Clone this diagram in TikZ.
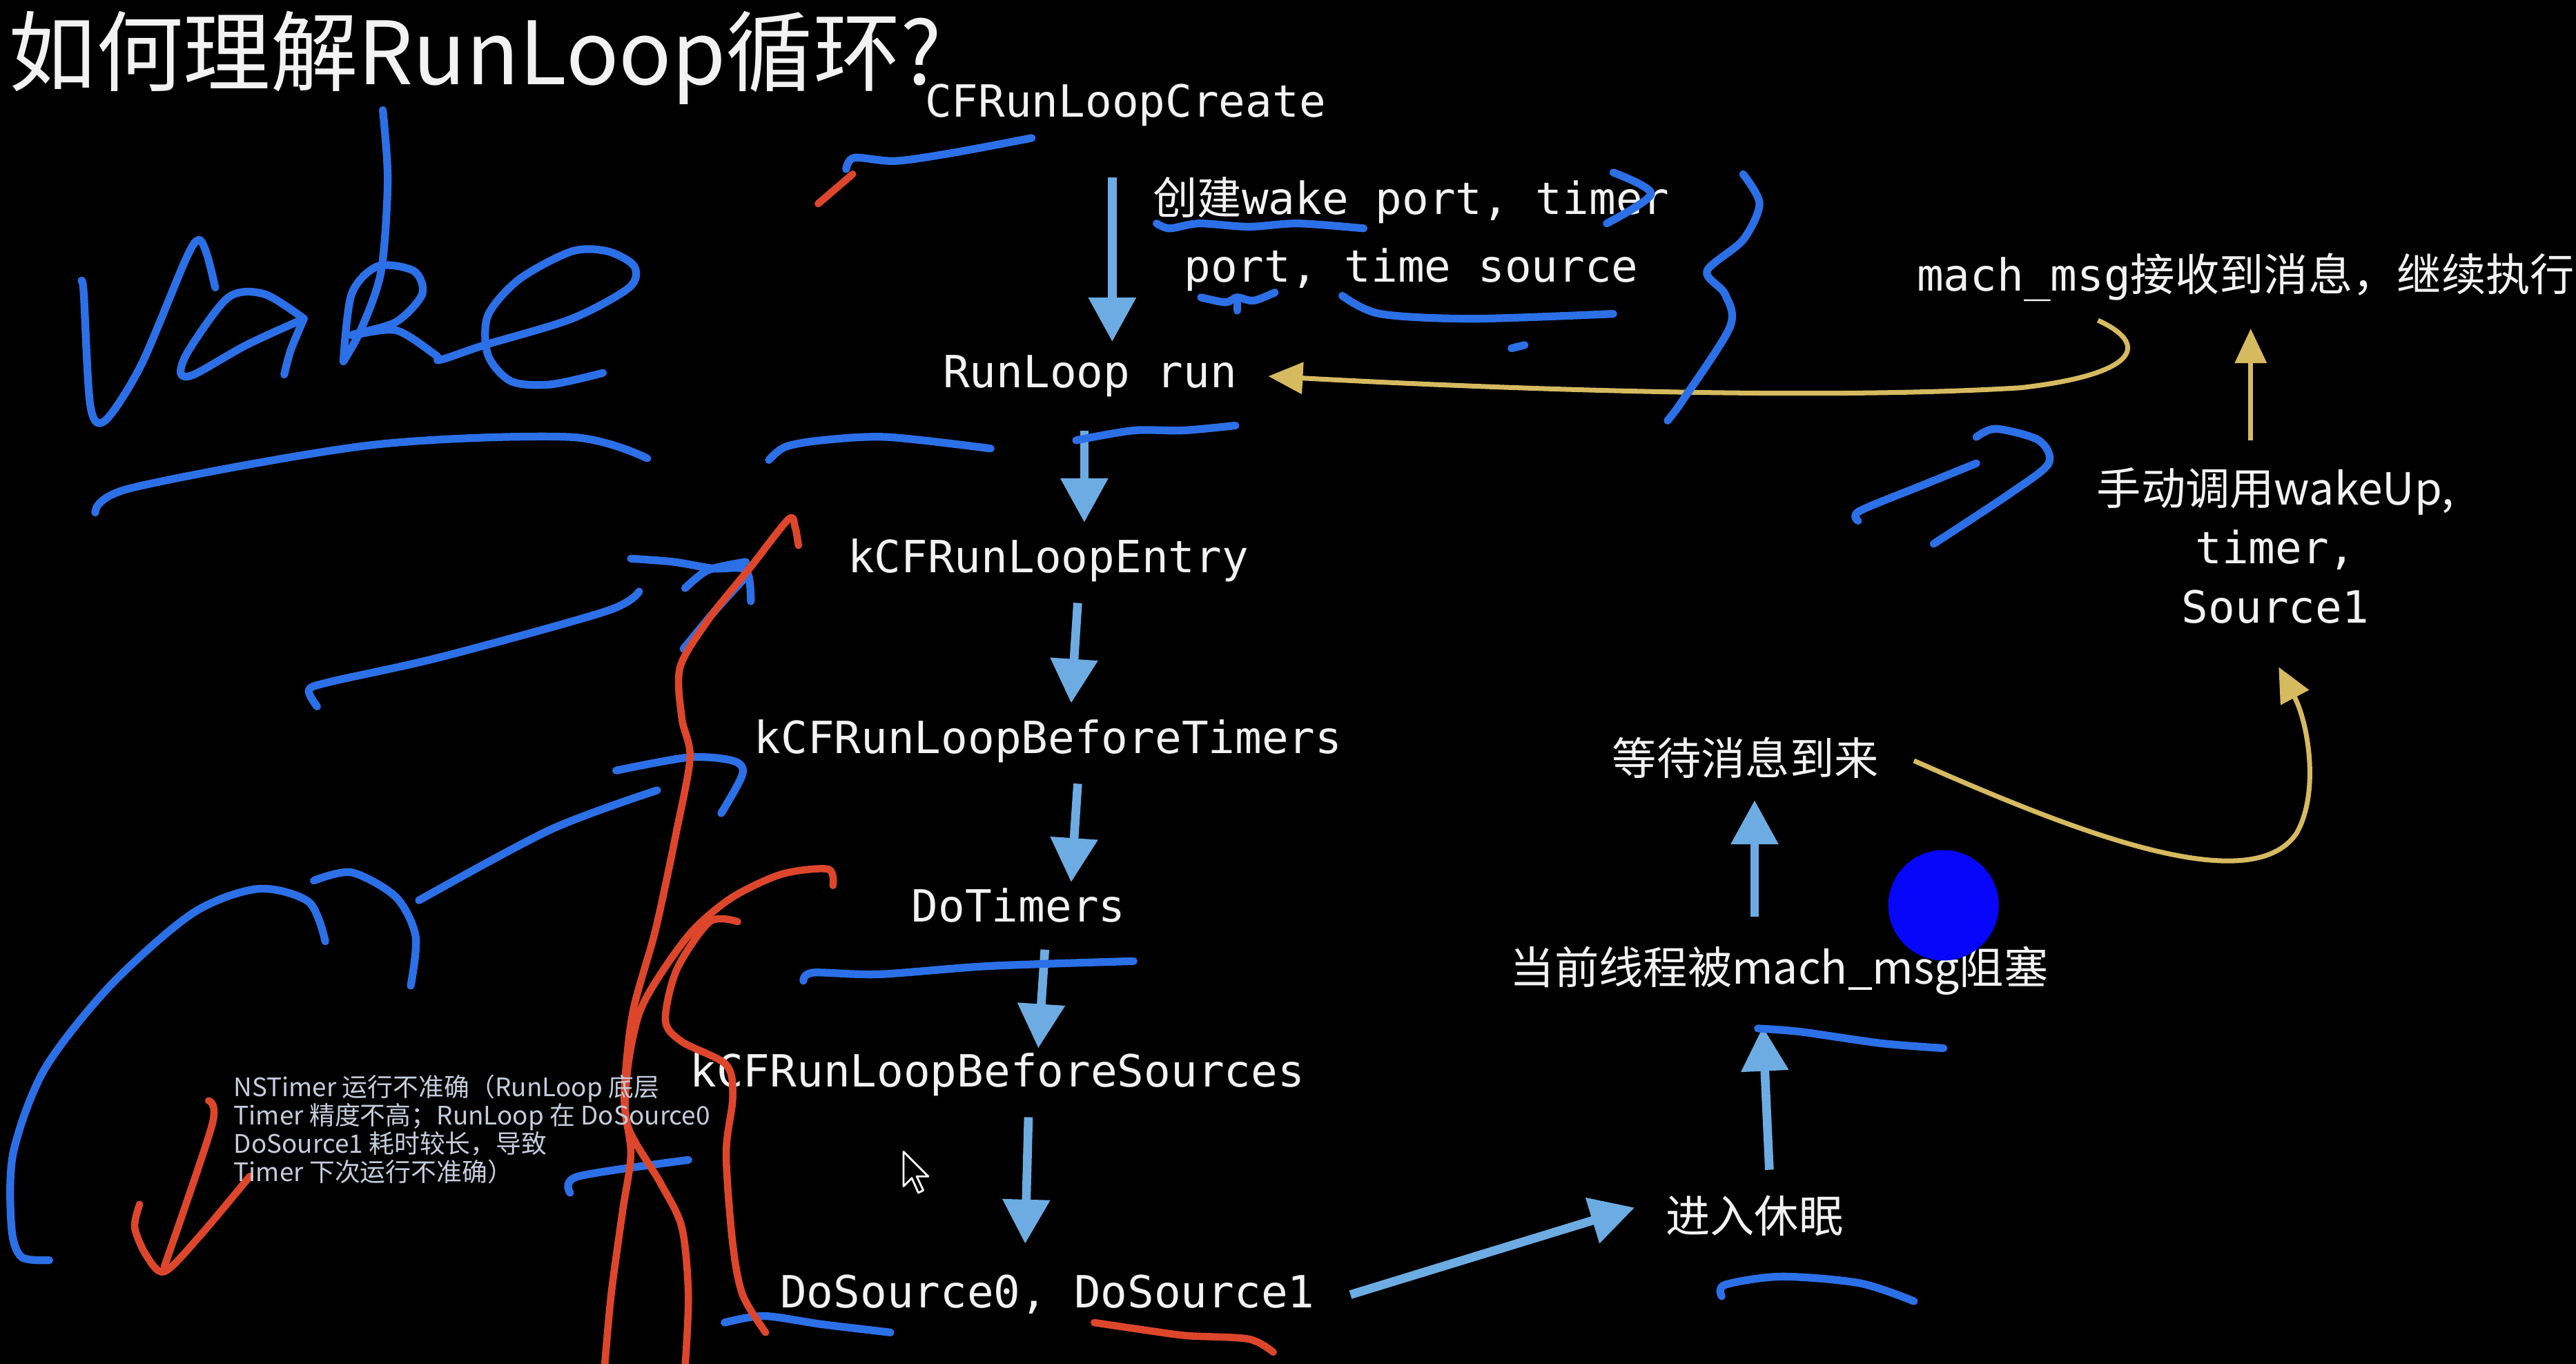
\documentclass[tikz,border=0pt]{standalone}
\usepackage{fontspec}
\usepackage{graphicx}
\setmonofont{DejaVu Sans Mono}
\newfontfamily\cjk{Noto Sans CJK SC}
\usetikzlibrary{arrows.meta,calc}

\definecolor{arrowblue}{RGB}{108,172,226}
\definecolor{arrowgold}{RGB}{214,186,96}
\definecolor{inkblue}{RGB}{44,112,232}
\definecolor{inkred}{RGB}{222,70,44}
\definecolor{dotblue}{RGB}{6,6,250}
\definecolor{labelwhite}{RGB}{242,242,242}
\definecolor{notegray}{RGB}{196,205,220}

\newcommand\monofs{\fontsize{18.3}{22}\selectfont\ttfamily}
\newcommand\cjkfs{\fontsize{18.3}{22}\selectfont\cjk}

\tikzset{
  lbl/.style={text=labelwhite, inner sep=0pt, font=\monofs},
  lblcjk/.style={text=labelwhite, inner sep=0pt, font=\cjkfs},
  barrow/.style={draw=arrowblue, line width=3.6pt, -{Triangle[length=0.64cm,width=0.66cm]}},
  yarrow/.style={draw=arrowgold, line width=2pt, -{Triangle[length=0.5cm,width=0.45cm]}},
  blueink/.style={draw=inkblue, line width=3.2pt, line cap=round, line join=round},
  redink/.style={draw=inkred, line width=3pt, line cap=round, line join=round},
}

\begin{document}
\begin{tikzpicture}[x=0.0238cm, y=-0.0238cm]
\useasboundingbox (0,0) rectangle (1568,830);
\fill[black] (0,0) rectangle (1568,830);

% title
\node[anchor=west, inner sep=0pt, text=labelwhite, font=\fontsize{36}{40}\selectfont\cjk] (title) at (5,35) {如何理解RunLoop循环?};

% flow labels
\node[lbl] (create) at (685,64) {CFRunLoopCreate};
\node[lbl, align=center, font=\fontsize{18.3}{27.8}\selectfont\ttfamily] (ports) at (859,142.5) {{\cjk 创建}wake port, timer\\port, time source};
\node[lbl] (run) at (663.5,229) {RunLoop run};
\node[lbl] (entry) at (638,341) {kCFRunLoopEntry};
\node[lbl] (btimers) at (638,451) {kCFRunLoopBeforeTimers};
\node[lbl] (dotimers) at (620,551) {DoTimers};
\node[lbl] (bsources) at (607,654) {kCFRunLoopBeforeSources};
\node[lbl] (dosource) at (637.5,788) {DoSource0, DoSource1};
\node[lblcjk] (sleep) at (1068,740) {进入休眠};
\node[lblcjk] (blocked) at (1083,591) {当前线程被mach\_msg阻塞};
\node[lblcjk] (wait) at (1062.5,461) {等待消息到来};
\node[lblcjk, align=center, font=\fontsize{18.3}{24.3}\selectfont\cjk] (wakeup) at (1385,332) {手动调用wakeUp,\\{\ttfamily timer,}\\{\ttfamily Source1}};
\node[lbl] (machrecv) at (1367,169) {mach\_msg{\cjk 接收到消息，继续执行}};

% blue flow arrows
\draw[barrow] ($(create)+(-8,44)$) -- ($(run)+(13.5,-21)$);
\draw[barrow] ($(run)+(-3.5,33)$) -- ($(entry)+(22,-23)$);
\draw[barrow] ($(entry)+(18,26)$) -- ($(btimers)+(14,-23)$);
\draw[barrow] ($(btimers)+(18,26)$) -- ($(dotimers)+(32,-14)$);
\draw[barrow] ($(dotimers)+(16,27)$) -- ($(bsources)+(25,-16)$);
\draw[barrow] ($(bsources)+(19,26)$) -- ($(dosource)+(-13.5,-31)$);
\draw[barrow] ($(dosource)+(184.5,0)$) -- ($(sleep)+(-73,-5)$);
\draw[barrow] ($(sleep)+(9,-28)$) -- ($(blocked)+(-10,34)$);
\draw[barrow] ($(blocked)+(-15,-33)$) -- ($(wait)+(5.5,26)$);

% gold arrows
\draw[yarrow] ($(wakeup)+(-15,-64)$) -- ($(machrecv)+(3,31)$);
\draw[yarrow] ($(wait)+(102.5,2)$) .. controls ($(wait)+(197.5,44)$) and ($(wait)+(307.5,88)$) .. ($(wakeup)+(13,175)$)
   .. controls ($(wakeup)+(27,150)$) and ($(wakeup)+(20,108)$) .. ($(wakeup)+(2,74)$);
\draw[yarrow] ($(machrecv)+(-90,26)$) .. controls ($(machrecv)+(-57,41)$) and ($(machrecv)+(-67,59)$) .. ($(machrecv)+(-137,67)$)
   .. controls ($(run)+(436.5,15)$) and ($(run)+(236.5,7)$) .. ($(run)+(108.5,0)$);

% ---- blue handwriting and marks ----
% "vake"
\draw[blueink] plot[smooth, tension=0.5] coordinates {(49.6,171) (51,179) (55,247) (64,256) (86,222) (113,158) (121,146) (126,155) (131,175)};
\draw[blueink] plot[smooth, tension=0.5] coordinates {(185,194) (161,179) (139,181) (115,213) (110,227) (118,228) (150,210) (185,194)};
\draw[blueink] plot[smooth, tension=0.5] coordinates {(185,194) (177,213) (173,228)};
\draw[blueink] plot[smooth, tension=0.5] coordinates {(233,67) (236,110) (232,165) (220,200) (209,220)};
\draw[blueink] plot[smooth, tension=0.5] coordinates {(209,220) (214,179) (230,162) (252,165) (257,179) (241,196) (214,204) (241,201) (265,216) (268,219) (295,210) (348,194) (383,175) (386,162) (370,153) (348,153) (316,170) (297,192) (297,216) (311,232) (335,234) (367,227)};
\draw[blueink] plot[smooth] coordinates {(58,312) (80,297) (225,271) (347,266) (394,279)};
% top-center marks
\draw[blueink] plot[smooth] coordinates {(515,103) (520,96) (545,98) (580,93) (628,84)};
\draw[blueink] plot[smooth] coordinates {(704,136) (712,139) (730,136) (760,138) (790,136) (830,139)};
\draw[blueink] plot[smooth] coordinates {(982,105) (1005,118) (978,136)};
\draw[blueink] plot[smooth] coordinates {(1061,106) (1071,124) (1061,146) (1039,165) (1050,179) (1053,199) (1024,244) (1015,256)};
\draw[blueink] plot[smooth] coordinates {(731,181) (746,184) (753,181) (763,183) (776,178)};
\draw[blueink] (753,182) -- (753,189);
\draw[blueink] plot[smooth] coordinates {(817,180) (840,191) (896,194) (982,191)};
\draw[blueink] (920,212) -- (928,210);
\draw[blueink] plot[smooth] coordinates {(468,280) (478,272) (500,268) (540,266) (603,273)};
\draw[blueink] plot[smooth] coordinates {(655,268) (690,262) (720,262) (752,259)};
% right "arch"
\draw[blueink] plot[smooth] coordinates {(1131,317) (1132,311) (1171,295) (1203,282)};
\draw[blueink] plot[smooth] coordinates {(1203,266) (1215,261) (1241,268) (1247,282) (1224,300) (1177,331)};
% left middle strokes
\draw[blueink] plot[smooth] coordinates {(193,430) (188,420) (201,415) (268,400) (369,372) (389,360)};
\draw[blueink] plot[smooth] coordinates {(384,340) (410,342) (434,346) (454,347) (457,366)};
\draw[blueink] plot[smooth] coordinates {(417,358) (431,347) (454,342)};
\draw[blueink] plot[smooth] coordinates {(455,350) (435,372) (416,395)};
\draw[blueink] plot[smooth] coordinates {(375,469) (419,461) (446,463) (452,471) (439,495)};
\draw[blueink] plot[smooth] coordinates {(400,481) (335,505) (255,548)};
\draw[blueink] plot[smooth] coordinates {(191,536) (214,531) (241,546) (253,570) (250,600)};
\draw[blueink] plot[smooth] coordinates {(198,573) (188,549) (157,541) (117,556) (67,600) (27,651) (8,702) (7,747) (13,765) (30,767)};
\draw[blueink] plot[smooth] coordinates {(347,726) (352,716) (419,706)};
\draw[blueink] plot[smooth] coordinates {(489,597) (495,592) (535,593) (602,588) (690,585)};
\draw[blueink] plot[smooth] coordinates {(441,805) (465,801) (500,806) (542,811)};
\draw[blueink] plot[smooth] coordinates {(1070,626) (1096,628) (1145,635) (1183,638)};
\draw[blueink] plot[smooth] coordinates {(1048,789) (1050,782) (1084,777) (1132,781) (1165,792)};

% ---- red marks ----
\draw[redink] (498,124) -- (519,106);
\draw[redink] plot[smooth] coordinates {(486,332) (484,321) (480,316) (457,345) (432,376) (414,406) (415,437) (420,461) (412,505) (399,566) (385,617) (380,668) (384,702) (379,737) (372,788) (368,832)};
\draw[redink] plot[smooth] coordinates {(507,539) (504,529) (476,532) (446,546) (422,566) (402,593) (389,617) (382,651) (382,685) (402,720) (415,747) (419,788) (417,832)};
\draw[redink] plot[smooth] coordinates {(449,561) (432,561) (412,590) (405,621) (415,634) (442,648) (446,668) (442,702) (446,757) (452,788) (466,811)};
\draw[redink] plot[smooth] coordinates {(127,670) (129,685) (100,771)};
\draw[redink] plot[smooth] coordinates {(85,733) (82,747) (89,764) (100,774) (121,753) (152,716)};
\draw[redink] plot[smooth] coordinates {(666,805) (700,810) (723,813) (760,815) (775,823)};

% note text
\node[anchor=north west, align=left, inner sep=0pt, text=notegray, font=\fontsize{10.5}{11.6}\selectfont\cjk] (note) at (142,654) {NSTimer 运行不准确（RunLoop 底层\\Timer 精度不高；RunLoop 在 DoSource0\\DoSource1 耗时较长，导致\\Timer 下次运行不准确）};

% blue dot
\node[circle, fill=dotblue, inner sep=0pt, minimum size=1.6cm] (dot) at (1183,551) {};

% mouse cursor
\filldraw[fill=black, draw=white, line width=0.8pt, line join=round] (550,701) -- (550,722) -- (555,717) -- (559,726) -- (562,724.5) -- (558,716) -- (565,716) -- cycle;
\end{tikzpicture}
\end{document}
